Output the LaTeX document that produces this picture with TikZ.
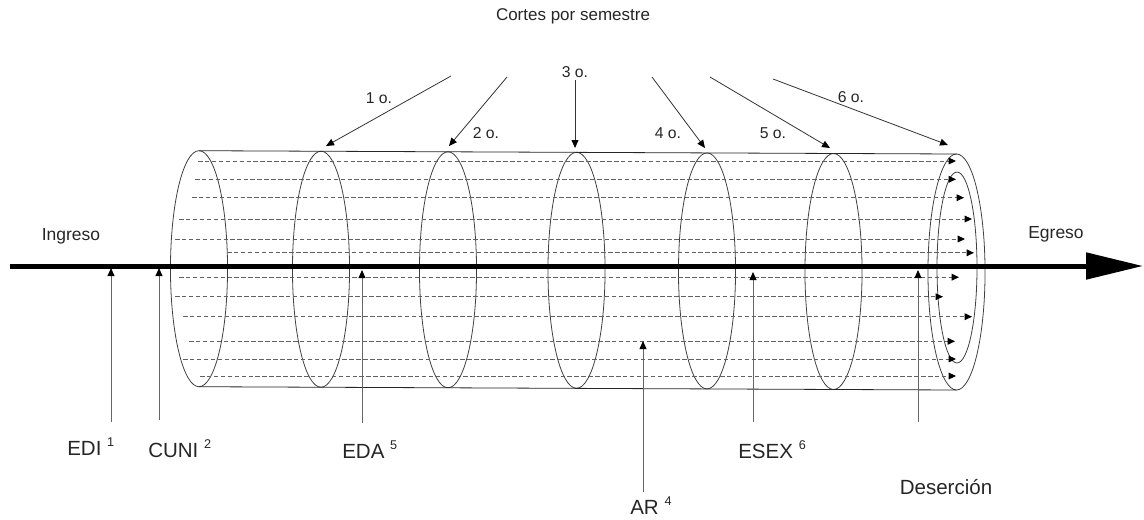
\documentclass[tikz,border=0pt]{standalone}
\usepackage{fontspec}
\setmainfont{Liberation Sans}
\usetikzlibrary{arrows.meta}
\newcommand\mysup[1]{\raisebox{0.45em}{\fontsize{9.5}{10}\selectfont #1}}
\begin{document}
\begin{tikzpicture}[x=0.75pt,y=-0.75pt,
  cyl/.style={draw=black!85, line width=0.6pt},
  ring/.style={draw=black!75, line width=0.6pt},
  dline/.style={draw=black!62, line width=0.7pt, dash pattern=on 3.4pt off 1.8pt,
     -{Triangle[length=5.5pt,width=5pt,color=black,fill=black]}},
  cutarr/.style={draw=black!80, line width=0.6pt,
     -{Triangle[length=6pt,width=5.2pt,color=black,fill=black]}},
  uparr/.style={draw=black!60, line width=0.75pt,
     -{Triangle[length=6pt,width=5.2pt,color=black,fill=black]}},
  axis/.style={draw=black, line width=3.75pt,
     -{Triangle[length=42.75pt,width=19.5pt,color=black,fill=black]}},
  toplab/.style={inner sep=0pt, text=black!85, font=\fontsize{11.8}{13}\selectfont},
  sidelab/.style={inner sep=0pt, text=black!85, font=\fontsize{13.1}{15}\selectfont},
  botlab/.style={inner sep=0pt, text=black!85, font=\fontsize{15.4}{17}\selectfont}]
\useasboundingbox (0,0) rectangle (1144,519);
% cross-section rings
\foreach \n/\x/\y in {0/199/268.7, 1/321/269.2, 2/448/269.8, 3/576.5/270.3, 4/707/270.9, 5/833.5/271.5, 6/956.5/272}{
  \draw[ring] (\x,\y) ellipse [x radius=21.4pt, y radius=88.5pt];
}
\draw[ring] (957,267.5) ellipse [x radius=15pt, y radius=71.6pt];
% cylinder outline
\coordinate (tl) at (199,150.7); \coordinate (tr) at (956.5,154);
\coordinate (bl) at (199,386.7); \coordinate (br) at (956.5,390);
\draw[cyl] (tl) -- (tr);
\draw[cyl] (bl) -- (br);
% dashed flow lines
\foreach \n/\y/\xs/\xe in {1/161/198/956, 2/179.3/195/956, 3/197.7/192/964, 4/219/179/972,
  5/239/175/965, 6/252.8/227/974, 7/277.2/179/959, 8/296.7/175/943, 9/316.7/183/972,
  10/341.3/189/955, 11/359/183/956, 12/376/200/956}{
  \coordinate (ds\n) at (\xs,\y); \coordinate (de\n) at (\xe,\y);
  \draw[dline] (ds\n) -- (de\n);
}
% main axis
\coordinate (axs) at (10,266); \coordinate (axe) at (1143,266);
\draw[axis] (axs) -- (axe);
% labels
\node[sidelab] (ingreso) at (71,236) {Ingreso};
\node[sidelab] (egreso) at (1056,234) {Egreso};
\node[inner sep=0pt, text=black!85, font=\fontsize{12.75}{14}\selectfont] (cortes) at (573,16) {Cortes por semestre};
% semester cuts
\foreach \n/\xs/\ys/\xe/\ye in {1/451/76/326/146, 2/507/77/449/146, 3/575/80/575/148,
  4/652/77/705/148, 5/710/77/830/148, 6/773/79/948/145}{
  \coordinate (cs\n) at (\xs,\ys); \coordinate (ce\n) at (\xe,\ye);
  \draw[cutarr] (cs\n) -- (ce\n);
}
\node[toplab] (l1) at (379,98) {1 o.};
\node[toplab] (l2) at (486,133) {2 o.};
\node[toplab] (l3) at (575,72) {3 o.};
\node[toplab] (l4) at (668,133) {4 o.};
\node[toplab] (l5) at (773,133) {5 o.};
\node[toplab] (l6) at (851,97) {6 o.};
% bottom indicators
\foreach \n/\x/\ys/\ye in {edi/111/422/268, cuni/159/420/268, eda/362/423/270,
  ar/643/492/341, esex/753/422/272, des/918/422/270}{
  \coordinate (us\n) at (\x,\ys); \coordinate (ue\n) at (\x,\ye);
  \draw[uparr] (us\n) -- (ue\n);
}
\node[botlab, anchor=west] (edi) at (67,447) {EDI \mysup{1}};
\node[botlab, anchor=west] (cuni) at (148,449) {CUNI \mysup{2}};
\node[botlab, anchor=west] (eda) at (342,450) {EDA \mysup{5}};
\node[botlab, anchor=west] (ar) at (630,506) {AR \mysup{4}};
\node[botlab, anchor=west] (esex) at (738,450) {ESEX \mysup{6}};
\node[botlab] (des) at (946,487) {Deserción};
\end{tikzpicture}
\end{document}
